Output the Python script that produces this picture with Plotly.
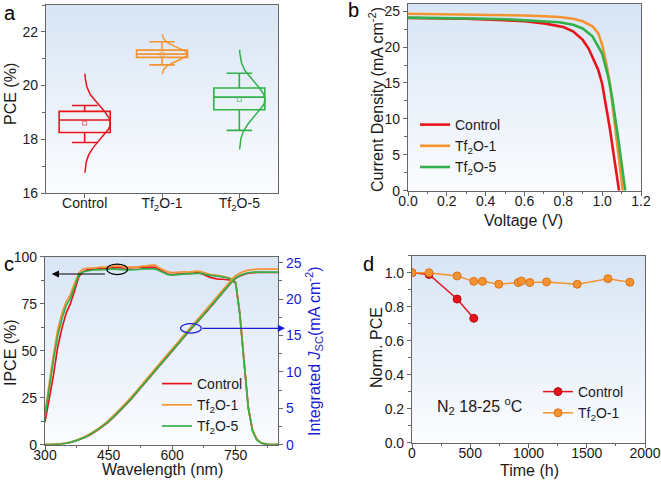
import base64
import numpy as np
import plotly.graph_objects as go

W, H = 661, 484
FONT = "Arial, Liberation Sans, sans-serif"
RED, ORANGE, GREEN, BLUE = "#e8141b", "#f59331", "#33b04a", "#1a1ad6"
AXC = "#666666"
TXT = "#1a1a1a"

# ---------------- panel a : PCE statistics ----------------
groups = ["Control", "Tf<sub>2</sub>O-1", "Tf<sub>2</sub>O-5"]
group_pos = [0, 1, 2]
group_colors = [RED, ORANGE, GREEN]
pce_q1 = [18.25, 21.05, 19.10]
pce_median = [18.72, 21.17, 19.57]
pce_q3 = [19.04, 21.32, 19.91]
pce_low = [17.88, 20.77, 18.33]
pce_high = [19.26, 21.63, 20.46]
pce_mean = [18.60, 21.17, 19.48]
pce_sd = [0.615, 0.247, 0.62]   # normal-distribution fit width

# ---------------- panel b : J-V ----------------
v_ctrl = [0, 0.1, 0.2, 0.3, 0.4, 0.5, 0.6, 0.7, 0.75, 0.8, 0.85, 0.9, 0.93, 0.96, 0.98, 1.0, 1.02, 1.04, 1.06, 1.075, 1.087]
j_ctrl = [24.05, 24.03, 24.0, 23.95, 23.85, 23.75, 23.6, 23.3, 23.1, 22.8, 22.2, 21.0, 19.8, 17.9, 16.8, 14.9, 11.8, 8.6, 4.9, 2.2, 0]
v_tf1 = [0, 0.1, 0.2, 0.3, 0.4, 0.5, 0.6, 0.7, 0.78, 0.85, 0.9, 0.95, 0.98, 1.0, 1.02, 1.04, 1.06, 1.08, 1.095, 1.106]
j_tf1 = [24.65, 24.62, 24.6, 24.57, 24.53, 24.48, 24.4, 24.3, 24.2, 23.95, 23.6, 22.9, 21.9, 20.3, 17.9, 14.9, 10.5, 5.9, 2.6, 0]
v_tf5 = [0, 0.1, 0.2, 0.3, 0.4, 0.5, 0.6, 0.7, 0.78, 0.85, 0.9, 0.95, 1.0, 1.03, 1.05, 1.08, 1.1, 1.119]
j_tf5 = [24.1, 24.08, 24.05, 24.0, 23.95, 23.88, 23.75, 23.6, 23.45, 23.1, 22.6, 21.5, 19.1, 16.0, 13.2, 7.8, 3.8, 0]

# ---------------- panel c : IPCE ----------------
wl = [300, 310, 320, 330, 340, 350, 360, 370, 380, 390, 400, 410, 420, 430, 440, 450, 460, 470, 480, 490,
      500, 510, 520, 530, 540, 550, 560, 570, 580, 590, 600, 610, 620, 630, 640, 650, 660, 670, 680, 690,
      700, 710, 720, 730, 740, 750, 760, 770, 780, 790, 800, 810, 820, 830, 840, 850]
ipce_ctrl = [12, 24, 37, 52, 62, 70, 75, 82, 89.5, 92, 93, 93.3, 93.5, 93.5, 93.8, 94, 94.3, 94.3, 94, 94,
             94, 94, 94, 94.3, 94.5, 94.5, 94.3, 93, 91.8, 90.8, 90.5, 90.8, 91, 91, 91, 91.2, 91.5, 91, 90, 89,
             88.5, 88, 88, 87.8, 87.5, 86, 69.5, 43.5, 19.5, 7.5, 2.8, 1, 0.2, 0, 0, 0]
ipce_tf1 = [17, 33, 48, 61, 70, 76, 80, 86, 91.5, 93.5, 94, 94, 94, 94.5, 94.5, 94.5, 95, 95, 95, 94.5,
            94.5, 94.5, 94.5, 95, 95, 95.5, 95.5, 94, 93, 92, 91.5, 91.8, 91.8, 92, 91.8, 92, 92.3, 92, 91.2, 90.5,
            90.3, 90, 89.5, 89, 88.3, 86.5, 70, 44, 20, 8, 3, 1, 0.3, 0, 0, 0]
ipce_tf5 = [15, 31, 45, 58, 67, 74, 78, 84, 90.5, 92, 92.5, 92.8, 93, 93, 93, 93.3, 93.5, 93.3, 93, 93,
            93, 93, 93.2, 93.5, 93.5, 93.8, 93.5, 92.5, 91.5, 90.5, 90.2, 90.5, 90.8, 91, 91, 91, 91.3, 91.2, 90.5, 90,
            89.8, 89.5, 89.2, 88.8, 88, 86.3, 69, 43, 19, 7, 2.5, 0.8, 0.2, 0, 0, 0]
wl_j = [300, 325, 350, 375, 400, 425, 450, 475, 500, 525, 550, 575, 600, 625, 650, 675, 700, 725, 750, 775, 800, 825, 850]
jint_ctrl = [0, 0.05, 0.2, 0.58, 1.15, 2.05, 3.15, 4.55, 6.05, 7.75, 9.45, 11.15, 12.85, 14.55, 16.25, 17.85, 19.55, 21.25, 22.85, 23.5, 23.65, 23.65, 23.65]
jint_tf1 = [0, 0.06, 0.22, 0.65, 1.3, 2.2, 3.35, 4.8, 6.3, 8.0, 9.75, 11.45, 13.15, 14.85, 16.55, 18.2, 19.9, 21.6, 23.2, 23.9, 24.1, 24.1, 24.1]
jint_tf5 = [0, 0.05, 0.2, 0.6, 1.2, 2.1, 3.2, 4.6, 6.1, 7.8, 9.5, 11.2, 12.9, 14.6, 16.3, 17.9, 19.6, 21.3, 22.9, 23.55, 23.7, 23.7, 23.7]

# ---------------- panel d : stability ----------------
t_ctrl = [0, 146, 387, 530]
npce_ctrl = [1.0, 0.99, 0.845, 0.732]
t_tf1 = [0, 146, 387, 530, 605, 745, 911, 940, 1012, 1155, 1418, 1682, 1871]
npce_tf1 = [1.0, 1.0, 0.981, 0.949, 0.949, 0.932, 0.942, 0.951, 0.942, 0.946, 0.932, 0.965, 0.944]


# ---------------- layout geometry (window pixels -> paper) ----------------
def fx(px):
    return px / W


def fy(py):
    return 1 - py / H


def dom_x(a, b):
    return [fx(a), fx(b)]


def dom_y(top, bottom):
    return [fy(bottom), fy(top)]


A_X, A_Y = dom_x(46, 278), dom_y(5, 193)
B_X, B_Y = dom_x(408, 641), dom_y(4, 190.7)
C_X, C_Y = dom_x(45, 278), dom_y(256.7, 444.7)
D_X, D_Y = dom_x(412, 645), dom_y(255.7, 442.7)

fig = go.Figure()

# panel a
for i in range(3):
    c = group_colors[i]
    fig.add_trace(go.Box(
        x=[group_pos[i]], q1=[pce_q1[i]], median=[pce_median[i]], q3=[pce_q3[i]],
        lowerfence=[pce_low[i]], upperfence=[pce_high[i]],
        width=0.66, whiskerwidth=0.5, line=dict(color=c, width=1.6),
        fillcolor="rgba(0,0,0,0)", boxpoints=False, showlegend=False,
        xaxis="x", yaxis="y", hoverinfo="skip"))
    # fitted normal distribution curve (from group mean / sd)
    yy = np.linspace(pce_mean[i] - 3 * pce_sd[i], pce_mean[i] + 3 * pce_sd[i], 80)
    xx = group_pos[i] + 0.33 * np.exp(-((yy - pce_mean[i]) ** 2) / (2 * pce_sd[i] ** 2))
    fig.add_trace(go.Scatter(x=xx, y=yy, mode="lines", line=dict(color=c, width=1.5),
                             showlegend=False, xaxis="x", yaxis="y", hoverinfo="skip"))
    fig.add_trace(go.Scatter(x=[group_pos[i]], y=[pce_mean[i]], mode="markers",
                             marker=dict(symbol="square-open", size=4, color=c, opacity=0.6),
                             showlegend=False, xaxis="x", yaxis="y", hoverinfo="skip"))

# panel b
for v, j, name, c in [(v_ctrl, j_ctrl, "Control", RED), (v_tf1, j_tf1, "Tf<sub>2</sub>O-1", ORANGE),
                      (v_tf5, j_tf5, "Tf<sub>2</sub>O-5", GREEN)]:
    fig.add_trace(go.Scatter(x=v, y=j, mode="lines", name=name, line=dict(color=c, width=2.6),
                             xaxis="x2", yaxis="y2", legend="legend"))

# panel c
for y, name, c in [(ipce_ctrl, "Control", RED), (ipce_tf1, "Tf<sub>2</sub>O-1", ORANGE),
                   (ipce_tf5, "Tf<sub>2</sub>O-5", GREEN)]:
    fig.add_trace(go.Scatter(x=wl, y=y, mode="lines", name=name, line=dict(color=c, width=1.7),
                             xaxis="x3", yaxis="y3", legend="legend2"))
for y, c in [(jint_ctrl, RED), (jint_tf1, ORANGE), (jint_tf5, GREEN)]:
    fig.add_trace(go.Scatter(x=wl_j, y=y, mode="lines", line=dict(color=c, width=1.7, shape="spline"),
                             showlegend=False, xaxis="x3", yaxis="y5"))

# panel d
fig.add_trace(go.Scatter(x=t_ctrl, y=npce_ctrl, mode="lines+markers", name="Control",
                         line=dict(color=RED, width=1.5),
                         marker=dict(size=8, color=RED, line=dict(color="#b00d12", width=1)),
                         xaxis="x4", yaxis="y4", legend="legend3"))
fig.add_trace(go.Scatter(x=t_tf1, y=npce_tf1, mode="lines+markers", name="Tf<sub>2</sub>O-1",
                         line=dict(color=ORANGE, width=1.5),
                         marker=dict(size=8, color=ORANGE, line=dict(color="#d9741a", width=1)),
                         xaxis="x4", yaxis="y4", legend="legend3"))


def axis(domain, rng, dtick=None, minor=None, tickcolor_font=TXT, **kw):
    d = dict(domain=domain, range=rng, showline=True, linecolor=AXC, linewidth=1.2, mirror=True,
             ticks="outside", ticklen=4, tickwidth=1.1, tickcolor=AXC, showgrid=False, zeroline=False,
             automargin=False, tickfont=dict(size=14, color=tickcolor_font, family=FONT))
    if dtick is not None:
        d["dtick"] = dtick
    if minor is not None:
        d["minor"] = dict(dtick=minor, ticks="outside", ticklen=2.5, tickcolor=AXC, tickwidth=1, showgrid=False)
    d.update(kw)
    return d


XSTAND = -7
fig.update_layout(
    width=W, height=H, margin=dict(l=0, r=0, t=0, b=0, pad=0, autoexpand=False),
    paper_bgcolor="white", plot_bgcolor="white",
    font=dict(family=FONT, size=14, color=TXT),
    xaxis=axis(A_X, [-0.5, 2.5], tickvals=group_pos, ticktext=groups, anchor="y", ticklabelstandoff=XSTAND),
    yaxis=axis(A_Y, [16, 23], dtick=2, minor=1, anchor="x", tick0=16),
    xaxis2=axis(B_X, [0, 1.2], dtick=0.2, minor=0.1, tickformat=".1f", anchor="y2", ticklabelstandoff=XSTAND),
    yaxis2=axis(B_Y, [0, 26], dtick=5, minor=2.5, anchor="x2"),
    xaxis3=axis(C_X, [300, 850], dtick=150, minor=75, tick0=300, anchor="y3", ticklabelstandoff=XSTAND),
    yaxis3=axis(C_Y, [0, 100], dtick=25, minor=12.5, anchor="x3"),
    yaxis5=axis(C_Y, [0, 25.82], dtick=5, minor=2.5, tickcolor_font=BLUE, overlaying="y3",
                side="right", anchor="x3", mirror=False),
    xaxis4=axis(D_X, [0, 2000], dtick=500, minor=250, anchor="y4", ticklabelstandoff=XSTAND),
    yaxis4=axis(D_Y, [0, 1.1], dtick=0.2, minor=0.1, tickformat=".1f", anchor="x4"),
    legend=dict(x=fx(415), y=fy(109), xanchor="left", yanchor="top", bgcolor="rgba(0,0,0,0)",
                font=dict(size=14), tracegroupgap=0),
    legend2=dict(x=fx(157), y=fy(368), xanchor="left", yanchor="top", bgcolor="rgba(0,0,0,0)",
                 font=dict(size=14)),
    legend3=dict(x=fx(538), y=fy(376), xanchor="left", yanchor="top", bgcolor="rgba(0,0,0,0)",
                 font=dict(size=14)),
)

# gradient backgrounds
svg = ('<svg xmlns="http://www.w3.org/2000/svg" viewBox="0 0 100 100" preserveAspectRatio="none" '
       'width="100" height="100"><defs><linearGradient id="g" x1="0" y1="0" x2="0" y2="1">'
       '<stop offset="0" stop-color="#d8e5f5"/><stop offset="1" stop-color="#fbfcfe"/></linearGradient></defs>'
       '<rect width="100" height="100" fill="url(#g)"/></svg>')
uri = "data:image/svg+xml;base64," + base64.b64encode(svg.encode()).decode()
images = []
for dx, dy in [(A_X, A_Y), (B_X, B_Y), (C_X, C_Y), (D_X, D_Y)]:
    images.append(dict(source=uri, xref="paper", yref="paper", x=dx[0], y=dy[1],
                       sizex=dx[1] - dx[0], sizey=dy[1] - dy[0], xanchor="left", yanchor="top",
                       sizing="stretch", layer="below"))
fig.update_layout(images=images)

# panel c ellipses and arrows
fig.add_shape(type="circle", xref="x3", yref="y3", x0=446, x1=495, y0=90.5, y1=96.1,
              line=dict(color="black", width=1.2))
fig.add_shape(type="circle", xref="x3", yref="y3", x0=620, x1=669, y0=59.4, y1=64.4,
              line=dict(color=BLUE, width=1.2))
fig.add_annotation(x=316, y=90.8, xref="x3", yref="y3", ax=445, ay=90.8, axref="x3", ayref="y3",
                   text="", showarrow=True, arrowhead=2, arrowsize=1.2, arrowwidth=1.2, arrowcolor="black")
fig.add_annotation(x=fx(285), y=fy(328.3), xref="paper", yref="paper", ax=-84, ay=0,
                   text="", showarrow=True, arrowhead=2, arrowsize=1.2, arrowwidth=1.2, arrowcolor=BLUE)

# axis titles (placed as text at the reference positions)
titles = [
    ("PCE (%)", 10, 94, -90, TXT),
    ("Current Density (mA cm<sup>-2</sup>)", 376, 100, -90, TXT),
    ("Voltage (V)", 523, 220, 0, TXT),
    ("IPCE (%)", 10, 353, -90, TXT),
    ("Wavelength (nm)", 162, 469, 0, TXT),
    ("Integrated <i>J</i><sub>SC</sub>(mA cm<sup>-2</sup>)", 314, 351, -90, BLUE),
    ("Norm. PCE", 376, 348, -90, TXT),
    ("Time (h)", 529, 470, 0, TXT),
]
for txt, px, py, ang, col in titles:
    fig.add_annotation(x=fx(px), y=fy(py), xref="paper", yref="paper", text=txt, showarrow=False,
                       textangle=ang, font=dict(size=16, color=col, family=FONT),
                       xanchor="center", yanchor="middle")

# panel labels and note
for txt, px, py in [("a", 10, 13), ("b", 353, 10), ("c", 9, 264), ("d", 368, 264)]:
    fig.add_annotation(x=fx(px), y=fy(py), xref="paper", yref="paper", text=txt, showarrow=False,
                       font=dict(size=20, color="black", family=FONT), xanchor="center", yanchor="middle")
fig.add_annotation(x=fx(479), y=fy(406), xref="paper", yref="paper",
                   text="N<sub>2</sub> 18-25 <sup>o</sup>C", showarrow=False,
                   font=dict(size=16, color=TXT, family=FONT), xanchor="center", yanchor="middle")

fig.write_html("out.html", config={"displayModeBar": False},
               post_script="document.body.style.margin='0px';document.body.style.overflow='hidden';")
